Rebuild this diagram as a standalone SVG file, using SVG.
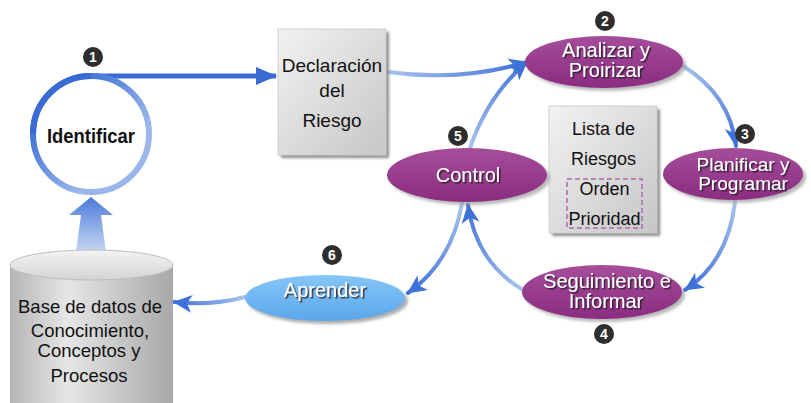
<svg xmlns="http://www.w3.org/2000/svg" width="811" height="403" viewBox="0 0 811 403">
  <defs>
    <style>
      .lbl { font-family: "Liberation Sans", Arial, sans-serif; fill: #111; text-anchor: middle; }
      .wt { font-family: "Liberation Sans", Arial, sans-serif; fill: #fff; text-anchor: middle; font-size: 20px; filter: url(#txtShadow); }
      .badge { fill: #2e2e2e; }
      .bnum { font-family: "Liberation Sans", Arial, sans-serif; font-weight: bold; font-size: 14px; fill: #fff; text-anchor: middle; }
      .purple { fill: url(#purpleGrad); }
      .pshadow { fill: #9a9a9a; opacity: 0.7; }
      .conn { fill: none; stroke-linecap: round; }
    </style>
    <filter id="txtShadow" x="-10%" y="-20%" width="130%" height="150%">
      <feDropShadow dx="1.5" dy="1.5" stdDeviation="0.4" flood-color="#2a1a2a" flood-opacity="0.9"/>
    </filter>
    <linearGradient id="purpleGrad" x1="0" y1="0" x2="0" y2="1">
      <stop offset="0" stop-color="#a54d9b"/>
      <stop offset="1" stop-color="#8b2c80"/>
    </linearGradient>
    <linearGradient id="blueEll" x1="0" y1="0" x2="0" y2="1">
      <stop offset="0" stop-color="#86c6f8"/>
      <stop offset="1" stop-color="#5aa6ea"/>
    </linearGradient>
    <linearGradient id="boxGrad" x1="0" y1="0" x2="1" y2="1">
      <stop offset="0" stop-color="#f2f2f2"/>
      <stop offset="1" stop-color="#c6c6c6"/>
    </linearGradient>
    <linearGradient id="cylGrad" x1="0" y1="0" x2="1" y2="0">
      <stop offset="0" stop-color="#b4b4b4"/>
      <stop offset="0.35" stop-color="#e6e6e6"/>
      <stop offset="1" stop-color="#a8a8a8"/>
    </linearGradient>
    <linearGradient id="cylTop" x1="0" y1="0" x2="0" y2="1">
      <stop offset="0" stop-color="#f4f4f4"/>
      <stop offset="1" stop-color="#d4d4d4"/>
    </linearGradient>
    <linearGradient id="ringGrad" x1="0" y1="0" x2="1" y2="1">
      <stop offset="0.2" stop-color="#3d6fd6"/>
      <stop offset="0.7" stop-color="#9ab6ea"/>
    </linearGradient>
    <linearGradient id="upGrad" x1="0" y1="1" x2="0" y2="0">
      <stop offset="0" stop-color="#c8d8f4"/>
      <stop offset="1" stop-color="#4a7ad8"/>
    </linearGradient>
    <!-- connector gradients: pale at the tail, strong at the head -->
    <linearGradient id="g1" gradientUnits="userSpaceOnUse" x1="388" y1="72" x2="527" y2="62">
      <stop offset="0" stop-color="#a9c3ee"/><stop offset="1" stop-color="#3f72d8"/>
    </linearGradient>
    <linearGradient id="g2" gradientUnits="userSpaceOnUse" x1="470" y1="148" x2="527" y2="62">
      <stop offset="0" stop-color="#a9c3ee"/><stop offset="1" stop-color="#3f72d8"/>
    </linearGradient>
    <linearGradient id="g3" gradientUnits="userSpaceOnUse" x1="683" y1="66" x2="736" y2="146">
      <stop offset="0" stop-color="#a9c3ee"/><stop offset="1" stop-color="#3f72d8"/>
    </linearGradient>
    <linearGradient id="g4" gradientUnits="userSpaceOnUse" x1="735" y1="202" x2="685" y2="290">
      <stop offset="0" stop-color="#a9c3ee"/><stop offset="1" stop-color="#3f72d8"/>
    </linearGradient>
    <linearGradient id="g5" gradientUnits="userSpaceOnUse" x1="523" y1="290" x2="468" y2="205">
      <stop offset="0" stop-color="#a9c3ee"/><stop offset="1" stop-color="#3f72d8"/>
    </linearGradient>
    <linearGradient id="g6" gradientUnits="userSpaceOnUse" x1="462" y1="203" x2="408" y2="293">
      <stop offset="0" stop-color="#a9c3ee"/><stop offset="1" stop-color="#3f72d8"/>
    </linearGradient>
    <linearGradient id="g7" gradientUnits="userSpaceOnUse" x1="245" y1="297" x2="174" y2="302">
      <stop offset="0" stop-color="#a9c3ee"/><stop offset="1" stop-color="#3f72d8"/>
    </linearGradient>
    <marker id="head" markerUnits="userSpaceOnUse" markerWidth="22" markerHeight="20" refX="18" refY="10" orient="auto">
      <path d="M0,1 L19,10 L0,19 L5,10 Z" fill="#3f72d8"/>
    </marker>
    <marker id="head1" markerUnits="userSpaceOnUse" markerWidth="24" markerHeight="20" refX="20" refY="10" orient="auto">
      <path d="M0,1 L21,10 L0,19 Z" fill="#3a6ad4"/>
    </marker>
    <filter id="soft" x="-10%" y="-10%" width="130%" height="130%">
      <feGaussianBlur stdDeviation="1.5"/>
    </filter>
  </defs>

  <!-- connectors -->
  <g id="connectors">
    <!-- Identificar loop out to Declaración -->
    <path d="M33,134 A58,58 0 0 1 91,76 L276,76" fill="none" stroke="#3a6ad4" stroke-width="5" marker-end="url(#head1)"/>
    <!-- database up to Identificar -->
    <path d="M76,252 L81,215 L69,215 L91,197 L113,215 L101,215 L106,252 Z" fill="url(#upGrad)"/>
    <path class="conn" d="M388,72 Q460,82 527,62" stroke="url(#g1)" stroke-width="4" marker-end="url(#head)"/>
    <path class="conn" d="M470,148 Q488,95 527,62" stroke="url(#g2)" stroke-width="4" marker-end="url(#head)"/>
    <path class="conn" d="M683,66 Q730,95 736,146" stroke="url(#g3)" stroke-width="4" marker-end="url(#head)"/>
    <path class="conn" d="M735,202 Q728,262 685,290" stroke="url(#g4)" stroke-width="4" marker-end="url(#head)"/>
    <path class="conn" d="M523,290 Q476,262 468,205" stroke="url(#g5)" stroke-width="4" marker-end="url(#head)"/>
    <path class="conn" d="M462,203 Q452,262 408,293" stroke="url(#g6)" stroke-width="4" marker-end="url(#head)"/>
    <path class="conn" d="M245,297 Q212,306 174,302" stroke="url(#g7)" stroke-width="4" marker-end="url(#head)"/>
  </g>

  <!-- Identificar -->
  <g id="identificar">
    <circle cx="91" cy="134" r="58" fill="#fff" stroke="url(#ringGrad)" stroke-width="6"/>
    <path d="M33,134 A58,58 0 0 1 91,76" fill="none" stroke="#3a6ad4" stroke-width="6"/>
    <text class="lbl" x="91" y="143" font-size="19.5" font-weight="bold" textLength="88" lengthAdjust="spacingAndGlyphs">Identificar</text>
    <circle class="badge" cx="93" cy="57" r="10"/>
    <text class="bnum" x="93" y="62">1</text>
  </g>

  <!-- Declaración del Riesgo -->
  <g id="declaracion">
    <rect x="281" y="32" width="108" height="126" fill="#8c8c8c" filter="url(#soft)"/>
    <rect x="278" y="29" width="108" height="126" fill="url(#boxGrad)" stroke="#d0d0d0" stroke-width="1"/>
    <text class="lbl" x="332" y="72" font-size="19">Declaración</text>
    <text class="lbl" x="332" y="97" font-size="19">del</text>
    <text class="lbl" x="332" y="127" font-size="19">Riesgo</text>
  </g>

  <!-- Analizar y Proirizar -->
  <g id="analizar">
    <ellipse class="pshadow" cx="607" cy="65" rx="79" ry="26" filter="url(#soft)"/>
    <ellipse class="purple" cx="604" cy="62" rx="79" ry="26"/>
    <text class="wt" x="606" y="57">Analizar y</text>
    <text class="wt" x="606" y="77">Proirizar</text>
    <circle class="badge" cx="605" cy="21" r="10"/>
    <text class="bnum" x="605" y="26">2</text>
  </g>

  <!-- Planificar y Programar -->
  <g id="planificar">
    <ellipse class="pshadow" cx="736" cy="177" rx="70" ry="26" filter="url(#soft)"/>
    <ellipse class="purple" cx="733" cy="174" rx="70" ry="26"/>
    <text class="wt" x="743" y="171" style="font-size:19px">Planificar y</text>
    <text class="wt" x="743" y="190" style="font-size:19px">Programar</text>
    <circle class="badge" cx="745" cy="134" r="10"/>
    <text class="bnum" x="745" y="139">3</text>
  </g>

  <!-- Lista de Riesgos -->
  <g id="lista">
    <rect x="552" y="109" width="108" height="127" fill="#8c8c8c" filter="url(#soft)"/>
    <rect x="549" y="106" width="108" height="127" fill="url(#boxGrad)" stroke="#d0d0d0" stroke-width="1"/>
    <rect x="567" y="179" width="75" height="49" fill="none" stroke="#b06aa8" stroke-width="1.5" stroke-dasharray="5,3"/>
    <text class="lbl" x="603.5" y="135" font-size="18">Lista de</text>
    <text class="lbl" x="603.5" y="165" font-size="18">Riesgos</text>
    <text class="lbl" x="604.5" y="195" font-size="18">Orden</text>
    <text class="lbl" x="604.5" y="225" font-size="18">Prioridad</text>
  </g>

  <!-- Control -->
  <g id="control">
    <ellipse class="pshadow" cx="470" cy="178" rx="80" ry="27" filter="url(#soft)"/>
    <ellipse class="purple" cx="467" cy="175" rx="80" ry="27"/>
    <text class="wt" x="468" y="182">Control</text>
    <circle class="badge" cx="458" cy="136" r="10"/>
    <text class="bnum" x="458" y="141">5</text>
  </g>

  <!-- Seguimiento e Informar -->
  <g id="seguimiento">
    <ellipse class="pshadow" cx="605" cy="295" rx="80" ry="27" filter="url(#soft)"/>
    <ellipse class="purple" cx="602" cy="292" rx="80" ry="27"/>
    <text class="wt" x="607" y="288">Seguimiento e</text>
    <text class="wt" x="606" y="308">Informar</text>
    <circle class="badge" cx="604" cy="334" r="10"/>
    <text class="bnum" x="604" y="339">4</text>
  </g>

  <!-- Aprender -->
  <g id="aprender">
    <ellipse cx="328" cy="301" rx="80" ry="23" fill="#8a8a8a" opacity="0.7" filter="url(#soft)"/>
    <ellipse cx="325" cy="298" rx="80" ry="23" fill="url(#blueEll)"/>
    <text class="wt" x="325" y="297">Aprender</text>
    <circle class="badge" cx="332" cy="255" r="10"/>
    <text class="bnum" x="332" y="260">6</text>
  </g>

  <!-- Base de datos -->
  <g id="basedatos">
    <path d="M10,265 L10,403 L173,403 L173,265 Z" fill="url(#cylGrad)"/>
    <ellipse cx="91.5" cy="265" rx="81.5" ry="15" fill="url(#cylTop)" stroke="#bdbdbd" stroke-width="1"/>
    <text class="lbl" x="90" y="313" font-size="18.5">Base de datos de</text>
    <text class="lbl" x="90" y="337" font-size="18.5">Conocimiento,</text>
    <text class="lbl" x="89" y="357" font-size="18.5">Conceptos y</text>
    <text class="lbl" x="89" y="382" font-size="18.5">Procesos</text>
  </g>
</svg>
